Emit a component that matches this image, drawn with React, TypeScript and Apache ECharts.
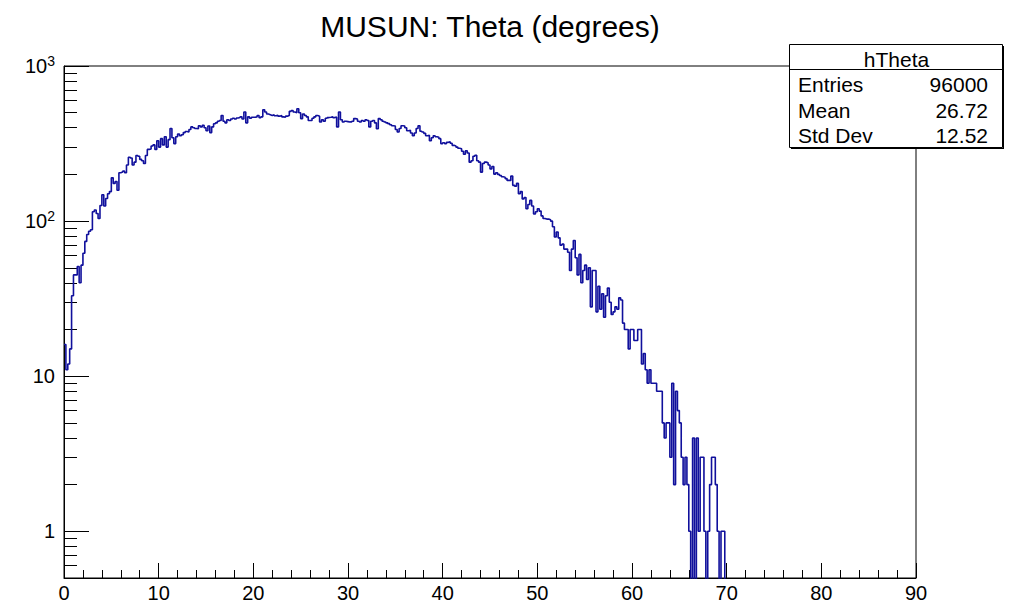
import React, { useEffect, useRef } from "react";
import * as echarts from "echarts";

// Histogram hTheta: 450 bins of 0.2 degrees over 0..90 (only non-empty region listed, 0..70)
const binWidth = 0.2;
const xMin = 0;
const xMax = 90;
const counts: number[] = [
  16, 11, 12, 15, 33, 45, 45, 51, 40, 52,
  62, 74, 82, 86, 88, 115, 118, 112, 104, 126,
  148, 125, 140, 150, 155, 190, 175, 180, 158, 205,
  207, 210, 205, 230, 258, 255, 230, 240, 265, 262,
  250, 245, 235, 265, 290, 292, 305, 310, 290, 330,
  300, 340, 310, 350, 300, 335, 395, 345, 316, 350,
  364, 355, 360, 372, 378, 375, 390, 405, 400, 395,
  394, 412, 405, 415, 400, 382, 410, 372, 405, 424,
  430, 440, 445, 480, 440, 430, 450, 445, 455, 460,
  455, 462, 465, 470, 455, 505, 430, 470, 460, 467,
  467, 470, 480, 465, 470, 522, 505, 490, 485, 480,
  485, 478, 482, 475, 480, 470, 467, 475, 480, 510,
  516, 505, 500, 530, 500, 458, 490, 480, 470, 445,
  445, 460, 470, 480, 475, 435, 450, 440, 460, 465,
  467, 470, 465, 468, 405, 505, 450, 435, 440, 438,
  436, 435, 440, 458, 455, 440, 435, 445, 440, 450,
  445, 405, 440, 445, 430, 394, 458, 450, 440, 435,
  430, 425, 418, 412, 410, 390, 375, 395, 412, 410,
  400, 382, 385, 370, 355, 370, 395, 412, 380, 375,
  368, 355, 358, 330, 345, 355, 350, 347, 340, 316,
  320, 316, 322, 325, 318, 308, 305, 300, 295, 293,
  282, 270, 284, 275, 240, 245, 262, 266, 245, 240,
  207, 235, 240, 238, 230, 217, 225, 201, 205, 200,
  197, 193, 192, 188, 183, 183, 195, 170, 168, 175,
  150, 155, 139, 142, 120, 128, 136, 125, 111, 115,
  120, 116, 108, 104, 103, 103, 102, 100, 92, 79,
  85, 78, 70, 71, 66, 66, 63, 48, 66, 75,
  58, 45, 61, 40, 48, 52, 42, 50, 28, 48,
  48, 26, 38, 27, 34, 24, 33, 37, 30, 25,
  26, 28, 27, 32, 31, 22, 20, 20, 15, 20,
  20, 17, 17, 20, 20, 12, 14, 11, 9, 11,
  9, 9, 9, 8, 8, 8, 5, 4, 5, 5,
  3, 9, 2, 8, 6, 5, 3, 2, 3, 2,
  1, 0, 4, 0, 4, 1, 3, 3, 1, 0,
  1, 2, 3, 3, 2, 1, 0, 1, 1, 0,
];

const yMin = 0.5;
const yMax = 1000;
const yMajorTicks = [1, 10, 100, 1000];
const yMinorTicks = [
  0.6, 0.7, 0.8, 0.9,
  2, 3, 4, 5, 6, 7, 8, 9,
  20, 30, 40, 50, 60, 70, 80, 90,
  200, 300, 400, 500, 600, 700, 800, 900,
];

const titleText = "MUSUN: Theta (degrees)";
const statsName = "hTheta";
const statsLabels = ["Entries", "Mean", "Std Dev"];
const statsValues = ["96000", "26.72", "12.52"];

const FONT = "'Liberation Sans', Arial, Helvetica, sans-serif";

export default function App() {
  const ref = useRef<HTMLDivElement>(null);

  useEffect(() => {
    if (!ref.current) return;
    const chart = echarts.init(ref.current, undefined, { renderer: "svg" });

    const ZERO = 0.05; // empty bins: drawn below the frame (clipped)
    const pts: number[][] = counts.map((c, i) => [xMin + i * binWidth, c > 0 ? c : ZERO]);
    const lastEdge = xMin + counts.length * binWidth;
    pts.push([lastEdge, ZERO]);
    pts.push([xMax, ZERO]);

    const statsX = 789;
    const statsY = 44;
    const statsW = 213;
    const statsH = 103;
    const rowY = [84, 110, 135];

    const graphics: any[] = [
      {
        type: "text",
        x: 490,
        y: 26,
        style: {
          text: titleText,
          fontSize: 30,
          fontFamily: FONT,
          fill: "#000",
          align: "center",
          verticalAlign: "middle",
        },
      },
      {
        type: "rect",
        z: 100,
        shape: { x: statsX + 0.5, y: statsY + 0.5, width: statsW, height: statsH },
        style: { fill: "#fff", stroke: "#000", lineWidth: 1 },
      },
      {
        type: "line",
        z: 101,
        shape: { x1: statsX + statsW + 1.5, y1: statsY + 2, x2: statsX + statsW + 1.5, y2: statsY + statsH + 1.5 },
        style: { stroke: "#000", lineWidth: 1 },
      },
      {
        type: "line",
        z: 101,
        shape: { x1: statsX + 2, y1: statsY + statsH + 1.5, x2: statsX + statsW + 2, y2: statsY + statsH + 1.5 },
        style: { stroke: "#000", lineWidth: 1 },
      },
      {
        type: "line",
        z: 101,
        shape: { x1: statsX + 0.5, y1: 69.5, x2: statsX + statsW + 0.5, y2: 69.5 },
        style: { stroke: "#000", lineWidth: 1 },
      },
      {
        type: "text",
        z: 102,
        x: statsX + statsW / 2 + 1,
        y: 59,
        style: {
          text: statsName,
          fontSize: 21,
          fontFamily: FONT,
          fill: "#000",
          align: "center",
          verticalAlign: "middle",
        },
      },
    ];
    statsLabels.forEach((lab, i) => {
      graphics.push({
        type: "text",
        z: 102,
        x: 798,
        y: rowY[i],
        style: { text: lab, fontSize: 21, fontFamily: FONT, fill: "#000", align: "left", verticalAlign: "middle" },
      });
      graphics.push({
        type: "text",
        z: 102,
        x: 988,
        y: rowY[i],
        style: { text: statsValues[i], fontSize: 21, fontFamily: FONT, fill: "#000", align: "right", verticalAlign: "middle" },
      });
    });

    const yLabelFormatter = (v: number) => {
      const e = Math.round(Math.log10(v));
      if (e === 0) return "1";
      if (e === 1) return "10";
      return "{b|10}{s|" + e + "}";
    };

    chart.setOption({
      animation: false,
      backgroundColor: "#fff",
      textStyle: { fontFamily: FONT },
      grid: {
        left: 64,
        top: 66,
        right: 101,
        bottom: 26,
        show: true,
        borderColor: "#000",
        borderWidth: 1,
        backgroundColor: "transparent",
      },
      xAxis: {
        type: "value",
        min: xMin,
        max: xMax,
        interval: 10,
        axisLine: { show: true, lineStyle: { color: "#000", width: 1 } },
        axisTick: { show: true, inside: true, length: 15, lineStyle: { color: "#000", width: 1 } },
        minorTick: { show: true, splitNumber: 5, length: 8, lineStyle: { color: "#000", width: 1 } },
        axisLabel: { fontSize: 20, color: "#000", fontFamily: FONT, margin: 5 },
        splitLine: { show: false },
      },
      yAxis: [
        {
          type: "log",
          logBase: 10,
          min: yMin,
          max: yMax,
          axisLine: { show: true, lineStyle: { color: "#000", width: 1 } },
          axisTick: {
            show: true,
            inside: true,
            length: 25,
            customValues: yMajorTicks,
            lineStyle: { color: "#000", width: 1 },
          },
          axisLabel: {
            customValues: yMajorTicks,
            formatter: yLabelFormatter,
            fontSize: 20,
            color: "#000",
            fontFamily: FONT,
            margin: 9,
            rich: {
              b: { fontSize: 20, fontFamily: FONT, color: "#000" },
              s: { fontSize: 14, fontFamily: FONT, color: "#000", padding: [0, 0, 10, 0] },
            },
          },
          splitLine: { show: false },
        },
        {
          type: "log",
          logBase: 10,
          min: yMin,
          max: yMax,
          position: "left",
          axisLine: { show: false },
          axisTick: {
            show: true,
            inside: true,
            length: 13,
            customValues: yMinorTicks,
            lineStyle: { color: "#000", width: 1 },
          },
          axisLabel: { show: false },
          splitLine: { show: false },
        },
      ],
      graphic: graphics,
      series: [
        {
          type: "line",
          name: statsName,
          data: pts,
          step: "end",
          showSymbol: false,
          symbol: "none",
          clip: true,
          yAxisIndex: 0,
          lineStyle: { color: "#10109c", width: 1.6 },
        },
      ],
    });

    return () => chart.dispose();
  }, []);

  return (
    <div
      ref={ref}
      style={{ position: "fixed", left: 0, top: 0, width: 1017, height: 604, background: "#fff" }}
    />
  );
}
